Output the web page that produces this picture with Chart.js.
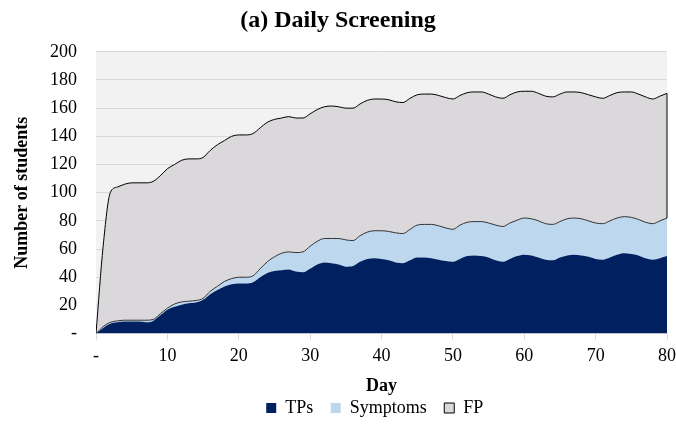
<!DOCTYPE html>
<html>
<head>
<meta charset="utf-8">
<script src="https://cdn.jsdelivr.net/npm/chart.js@4"></script>
<style>
  html, body { margin: 0; padding: 0; background: #ffffff; }
  #wrap { width: 676px; height: 430px; }
</style>
</head>
<body>
<div id="wrap"><canvas id="myChartArea" width="676" height="430"></canvas></div>
<script>
// days 0..80
const days = [0,1,2,3,4,5,6,7,8,9,10,11,12,13,14,15,16,17,18,19,20,21,22,23,24,25,26,27,28,29,30,
  31,32,33,34,35,36,37,38,39,40,41,42,43,44,45,46,47,48,49,50,51,52,53,54,55,56,57,58,59,60,
  61,62,63,64,65,66,67,68,69,70,71,72,73,74,75,76,77,78,79,80];

const tps = [0,4,7,8,8.5,8.5,8.5,8,9,13,17,19,20.5,21.5,22,24,28,31,33.5,35,35.5,35.5,36.5,40,43,44.5,45,45.5,44,43.5,46,
  49,50.5,50,49,47.5,48,51,53,53.5,53,52,50.5,50,52,54,54,53.5,52.5,51.5,51,53,55,55.5,55,54,52,51,53,55,56,
  55.5,54,52.5,52,54,55.5,56,55.5,54.5,53,52.5,54,56,57,56.5,55.5,53.5,52.5,53.5,55];

const symptoms = [0,1,1,1,1,1,1,1.5,1,1,1,2,2,1.5,1.5,1,2,2.5,3.5,4,4.5,4.5,4.5,6,8,10,12,12.5,13.5,14.5,16,
  16.5,17,17.5,18.5,19,18,18.5,19,19.5,20,20.5,21,21,22,23,23.5,24,24,23.5,23,24,24,24,24.5,24.5,25,25,25.5,25.5,26,
  26,26,25.5,25.5,25.5,26,26,26,25.5,25.5,25.5,26,26,26,26,25.5,25.5,25.5,26.5,27];

const fp = [0,57,92,95,96.5,97.5,97.5,97.5,98,98,99,99,100.5,101,100.5,100,100,100.5,100,101,101,101,101,100,99,97.5,96,96,95.5,95,94,
  93.5,93.5,94,93.5,93.5,94,93.5,93.5,93.5,93.5,93.5,93,93,93,92.5,92.5,92.5,92.5,92.5,92.5,92,92,92,92,91.5,91,91,91,91,90,
  90.5,90.5,90.5,90.5,90.5,90,89.5,89.5,89.5,89.5,89,89,89,88.5,89,89,89,88.5,88.5,88.5];

const seriesNames = ['TPs', 'Symptoms', 'FP'];

const serif = "'Liberation Serif', 'Times New Roman', serif";

function toPoints(values) {
  return values.map((v, i) => ({ x: days[i], y: v }));
}

// grey plot area like the spreadsheet chart
const plotBackground = {
  id: 'plotBackground',
  beforeDraw(chart) {
    const { ctx, chartArea } = chart;
    ctx.save();
    ctx.fillStyle = '#f2f2f2';
    ctx.fillRect(chartArea.left, chartArea.top, chartArea.right - chartArea.left, chartArea.bottom - chartArea.top);
    ctx.restore();
  }
};

// closing edge of the FP area at the last day
const fpEdge = {
  id: 'fpEdge',
  afterDatasetsDraw(chart) {
    const { ctx, scales } = chart;
    const last = days.length - 1;
    const x = scales.x.getPixelForValue(days[last]);
    const yTop = scales.y.getPixelForValue(tps[last] + symptoms[last] + fp[last]);
    const yBottom = scales.y.getPixelForValue(tps[last] + symptoms[last]);
    ctx.save();
    ctx.strokeStyle = '#000000';
    ctx.lineWidth = 1;
    ctx.beginPath();
    ctx.moveTo(x, yTop);
    ctx.lineTo(x, yBottom);
    ctx.stroke();
    ctx.restore();
  }
};

const ctx = document.getElementById('myChartArea');

const datasets = [
  {
    label: seriesNames[0],
    data: toPoints(tps),
    fill: 'origin',
    backgroundColor: '#002060',
    borderColor: '#002060',
    borderWidth: 0,
    pointRadius: 0,
    cubicInterpolationMode: 'monotone'
  },
  {
    label: seriesNames[1],
    data: toPoints(symptoms),
    fill: '-1',
    backgroundColor: '#bdd7ee',
    borderColor: '#333333',
    borderWidth: 1,
    pointRadius: 0,
    cubicInterpolationMode: 'monotone'
  },
  {
    label: seriesNames[2],
    data: toPoints(fp),
    fill: '-1',
    backgroundColor: '#dad8db',
    borderColor: '#000000',
    borderWidth: 1,
    pointRadius: 0,
    cubicInterpolationMode: 'monotone'
  }
];

new Chart(ctx, {
  type: 'line',
  data: { datasets: datasets },
  plugins: [plotBackground, fpEdge],
  options: {
    responsive: false,
    animation: false,
    layout: { padding: { left: 0, right: 0, top: 0, bottom: 3 } },
    plugins: {
      filler: { drawTime: 'beforeDatasetsDraw' },
      tooltip: { enabled: false },
      title: {
        display: true,
        text: '(a) Daily Screening',
        color: '#000000',
        font: { family: serif, size: 24, weight: 'bold' },
        padding: { top: 6, bottom: 17 }
      },
      legend: {
        position: 'bottom',
        fullSize: false,
        labels: {
          color: '#000000',
          font: { family: serif, size: 18, lineHeight: 1 },
          boxWidth: 10,
          boxHeight: 10,
          padding: 4,
          generateLabels(chart) {
            const items = Chart.defaults.plugins.legend.labels.generateLabels(chart);
            items.forEach((item, i) => {
              item.lineWidth = i === 2 ? 1 : 0;
              item.strokeStyle = '#000000';
              item.text = item.text + '   ';
            });
            return items;
          }
        }
      }
    },
    scales: {
      x: {
        type: 'linear',
        min: 0,
        max: 80,
        ticks: {
          stepSize: 10,
          color: '#000000',
          font: { family: serif, size: 18, lineHeight: 1.8 },
          padding: 0,
          maxRotation: 0,
          callback: v => (v === 0 ? '-' : v)
        },
        grid: { drawOnChartArea: false, drawTicks: true, tickLength: 6, color: '#d9d9d9' },
        border: { color: '#d9d9d9' },
        title: {
          display: true,
          text: 'Day',
          color: '#000000',
          font: { family: serif, size: 18, weight: 'bold', lineHeight: 1 },
          padding: { top: 5, bottom: 0 }
        }
      },
      y: {
        stacked: true,
        min: 0,
        max: 200,
        ticks: {
          stepSize: 20,
          color: '#000000',
          font: { family: serif, size: 18, lineHeight: 1 },
          padding: 19,
          callback: v => (v === 0 ? '-' : v)
        },
        grid: { color: '#d9d9d9', drawTicks: false },
        border: { display: false },
        title: {
          display: true,
          text: 'Number of students',
          color: '#000000',
          font: { family: serif, size: 18, weight: 'bold', lineHeight: 1 },
          padding: { top: 13, bottom: 0 }
        }
      }
    }
  }
});
</script>
</body>
</html>
